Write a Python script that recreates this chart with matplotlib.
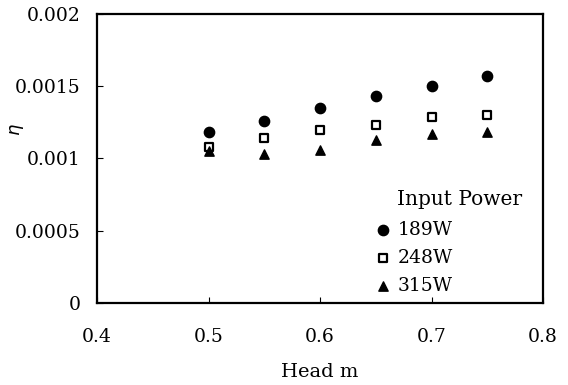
import matplotlib.pyplot as plt

head = [0.5, 0.55, 0.6, 0.65, 0.7, 0.75]
eta_189 = [0.00118, 0.00126, 0.00135, 0.00143, 0.00150, 0.00157]
eta_248 = [0.00108, 0.00114, 0.00120, 0.00123, 0.00129, 0.00130]
eta_315 = [0.00105, 0.00103, 0.00106, 0.00113, 0.00117, 0.00118]
labels = ['189W', '248W', '315W']

plt.rcParams['font.family'] = ['DejaVu Serif']

fig = plt.figure(figsize=(5.68, 3.85), dpi=100)
ax = fig.add_axes([0.171, 0.213, 0.785, 0.751])

ax.scatter(head, eta_189, marker='o', s=55, color='black', label=labels[0])
ax.scatter(head, eta_248, marker='s', s=40, facecolor='white', edgecolor='black',
           linewidths=1.6, label=labels[1])
ax.scatter(head, eta_315, marker='^', s=45, color='black', label=labels[2])

ax.set_xlim(0.4, 0.8)
ax.set_ylim(0, 0.002)
ax.set_xticks([0.4, 0.5, 0.6, 0.7, 0.8])
ax.set_xticklabels(['0.4', '0.5', '0.6', '0.7', '0.8'])
ax.set_yticks([0, 0.0005, 0.001, 0.0015, 0.002])
ax.set_yticklabels(['0', '0.0005', '0.001', '0.0015', '0.002'])
ax.tick_params(direction='in', labelsize=13.5, length=4, width=0.8)
ax.tick_params(axis='x', pad=18)
ax.tick_params(axis='y', pad=12)
for sp in ax.spines.values():
    sp.set_linewidth(1.6)

ax.set_xlabel('Head m', fontsize=14, labelpad=12)
ax.set_ylabel(r'$\eta$', fontsize=13)
ax.yaxis.set_label_coords(-0.16, 0.6)

ax.text(0.672, 0.357, 'Input Power', transform=ax.transAxes, fontsize=14.5,
        va='center', ha='left')
ax.legend(loc='upper left', bbox_to_anchor=(0.628, 0.285), frameon=False,
          fontsize=13.5, handlelength=0.6, handletextpad=0.5, borderpad=0,
          labelspacing=0.55, borderaxespad=0)

fig.savefig('out.png', dpi=100)
